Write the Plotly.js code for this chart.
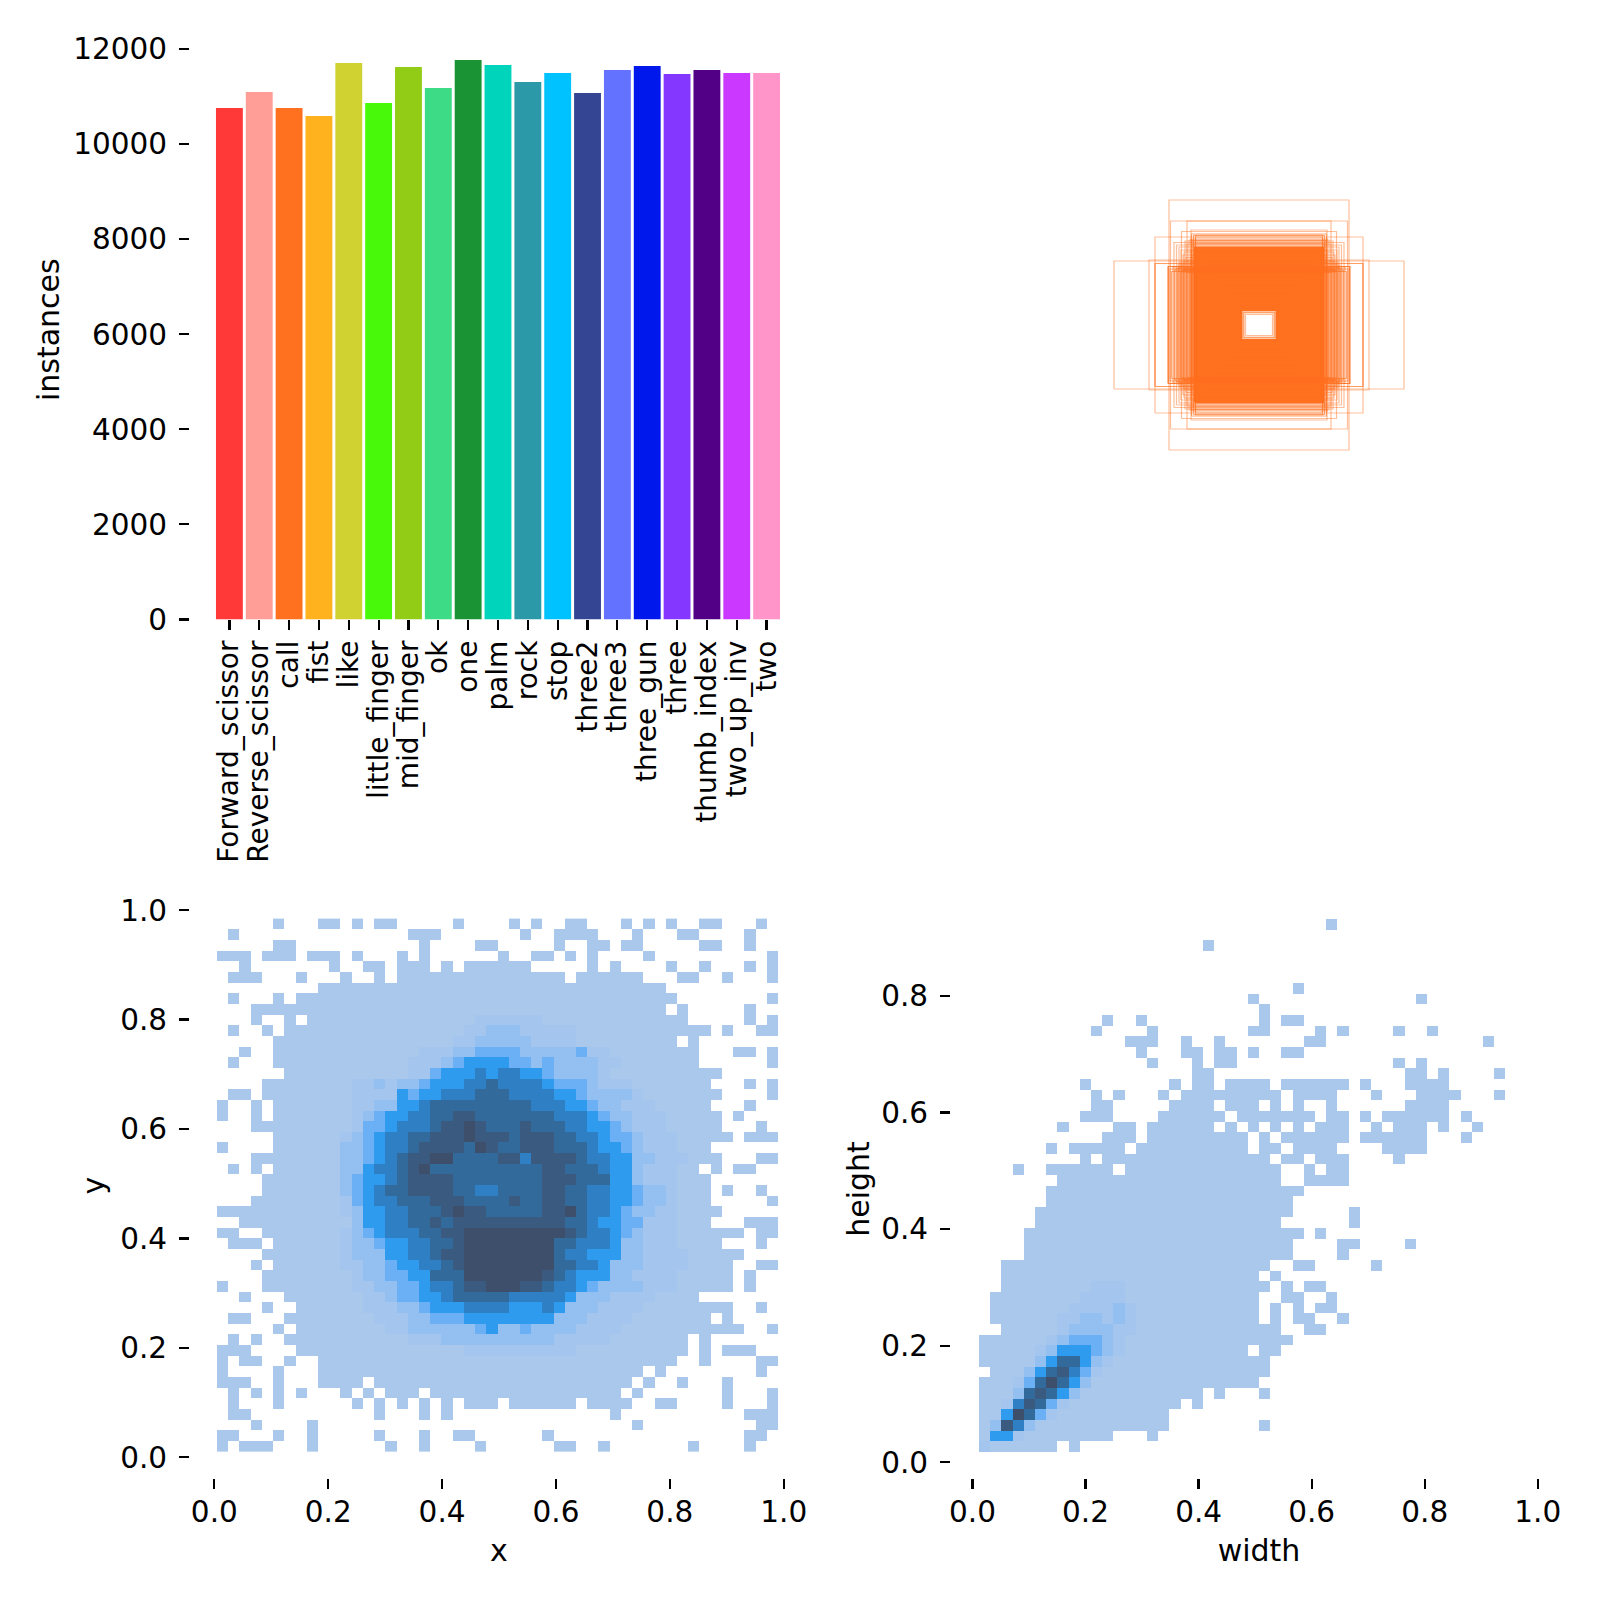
<!DOCTYPE html>
<html>
<head>
<meta charset="utf-8">
<script src="https://cdn.plot.ly/plotly-3.0.1.min.js"></script>
<style>html,body{margin:0;padding:0;background:#fff}</style>
</head>
<body>
<div id="chart" style="width:1600px;height:1600px"></div>
<script>
const categories = ["Forward_scissor","Reverse_scissor","call","fist","like","little_finger","mid_finger","ok","one","palm","rock","stop","three2","three3","three_gun","three","thumb_index","two_up_inv","two"];
const instances = [10760,11096,10760,10592,11706,10865,11622,11180,11769,11664,11306,11495,11075,11558,11643,11474,11558,11495,11495];
const barColors = ["#FF3838","#FF9D97","#FF701F","#FFB21D","#CFD231","#48F90A","#92CC17","#3DDB86","#1A9334","#00D4BB","#2C99A8","#00C2FF","#344593","#6473FF","#0018EC","#8438FF","#520085","#CB38FF","#FF95C8"];

const instanceTicks = [0,2000,4000,6000,8000,10000,12000];
const unitTicks = [0,0.2,0.4,0.6,0.8,1.0];
const heightTicks = [0,0.2,0.4,0.6,0.8];

// box sizes of the label-outline panel, in chart units (width, height)
const coreW = [36,38,40,42,44,46,48,50,52,54,56,58,60,62,64,66,68,70,72,74,76,78,80,82,84,86,88,90,92,94,96,98,100,102,104,106,108,110,112,114,116,118,120,122,124,125,126,127,128];
const coreH = [30,33,35,38,41,43,46,49,51,54,57,59,62,65,67,70,73,75,78,81,83,86,89,91,94,97,99,102,105,107,110,113,115,118,121,123,126,129,131,134,137,139,142,145,147,149,150,152,154];
const sideW = [130,133,136,139,142,145,148,151,154,157,160,163,166,169,172,175,178,181,126,128,130,132,134,136,127,131,135];
const sideH = [106,104,110,107,112,105,114,109,111,106,115,108,113,110,116,107,112,117,157,160,163,166,169,172,176,179,182];
const thinW = [180,290,144,208,220,208,182,177,155,136,127,27,30,33,35,31,37,34,182,208,150,156,160,165,170,148,152,144,140,138,142,146,150,154,158,162,134,136];
const thinH = [250,128,208,176,130,123,117,208,187,190,180,21,24,26,29,25,28,32,117,123,146,150,156,160,165,168,140,162,170,125,130,135,128,122,126,120,140,150];

// 2D histogram of box centres, top row first; 0 = empty, 1-9 = shade
const xyRows = [
"00000 10001 10101 10000 01000 01010 01100 01010 10011 00010",
"01000 00000 00000 00111 00000 00100 11110 00100 01100 00100",
"00000 11000 00000 00010 00011 00000 10011 01100 00011 00100",
"11101 11011 10100 01010 00000 10011 01010 00010 00000 00001",
"00100 00000 10011 01110 10111 11100 00010 10000 10010 00101",
"01110 00100 01001 01111 11111 11111 10111 11100 01100 10001",
"00000 00001 11111 11111 11111 11111 11111 11111 00000 00000",
"01000 10111 11111 11111 11111 11111 11111 11111 10000 00001",
"00011 11111 11111 11111 11111 11111 11111 11111 01000 00100",
"00010 01011 11111 11111 11122 22221 11111 11111 11000 00101",
"01001 01111 11111 11111 11223 33222 22111 11111 11110 10011",
"00000 11111 11111 11111 12233 33322 22111 11111 10100 00000",
"00100 11111 11111 11122 23344 44333 33422 11111 11100 01101",
"01000 11111 11111 11222 34555 54434 33332 21111 11100 00001",
"00000 01111 11111 11224 55565 66554 33332 11111 11111 00000",
"00001 11111 11223 23345 55667 66665 44432 22111 11110 00101",
"01101 11111 11222 25455 66677 76666 55433 33211 11111 00001",
"10010 11111 11223 35567 77777 77766 65543 32221 11110 00100",
"10010 11111 11234 55667 78877 77777 66654 33222 11111 01000",
"00011 11111 11244 56667 88987 77877 76655 43222 11111 00010",
"00000 11111 12345 66778 88988 87888 77665 44322 21111 10111",
"10000 11111 13345 66788 88798 77888 77765 54322 21110 00000",
"00011 11111 13345 67889 97777 88688 88766 55332 22111 00011",
"01010 11111 13356 67897 77777 77778 87776 55322 21101 01100",
"00001 11111 13455 67888 87777 77778 88777 55322 21110 00000",
"00001 11111 13456 77888 87766 77778 87766 55433 21110 10010",
"00011 11111 12456 67778 88777 78778 87766 55433 21110 00001",
"11111 11111 12355 66777 89887 77778 89766 54332 21111 00000",
"00111 11111 11355 66778 78888 88888 87765 54422 21110 00111",
"11001 11111 12345 66677 88999 99999 98766 54322 21111 11011",
"01110 11111 12334 55667 78999 99999 77666 53322 21111 00010",
"00001 11111 12333 55667 88999 99999 76655 53322 22111 11000",
"00010 11111 12233 45566 78999 99999 77665 33322 22111 10011",
"00001 11111 11233 44557 77999 99998 76555 33222 21111 10100",
"10001 11111 11223 34456 67889 99887 66543 33322 21111 10100",
"00100 01111 11122 34455 67777 76666 65333 22221 11100 00000",
"00001 00111 11122 23345 55666 65556 53332 22211 11111 10010",
"01100 01111 11112 22334 44555 55555 33322 22111 11110 10000",
"00000 10111 11111 22333 33345 33433 33222 21111 11111 11001",
"01010 01111 11111 11222 33333 33333 22222 11111 11010 00000",
"11100 00111 11111 11111 11222 22222 22111 11111 11010 11100",
"10110 01001 11111 11111 11111 11111 11111 11111 10010 00011",
"10000 10001 11111 11111 11111 11111 11111 11101 00000 00010",
"11100 10001 11101 11111 11111 11111 11111 11010 01000 10000",
"01010 10100 01010 11101 11111 11111 11111 10100 00000 10001",
"01000 10000 00101 01010 10111 01111 11011 11001 10000 10001",
"01100 00000 00001 00010 10000 00000 00000 10000 00000 00111",
"00010 00010 00000 00000 00000 00000 00000 00100 00000 00011",
"11000 10010 00001 00010 01100 00001 00000 00000 00000 00110",
"10111 00010 00000 10010 00010 00000 11001 00000 00100 00100"
];

// 2D histogram of box sizes, top row first
const whRows = [
"00000 00000 00000 00000 00000 00000 01000 00000 00000 00000",
"00000 00000 00000 00000 00000 00000 00000 00000 00000 00000",
"00000 00000 00000 00000 10000 00000 00000 00000 00000 00000",
"00000 00000 00000 00000 00000 00000 00000 00000 00000 00000",
"00000 00000 00000 00000 00000 00000 00000 00000 00000 00000",
"00000 00000 00000 00000 00000 00000 00000 00000 00000 00000",
"00000 00000 00000 00000 00000 00010 00000 00000 00000 00000",
"00000 00000 00000 00000 00001 00000 00000 00001 00000 00000",
"00000 00000 00000 00000 00000 10000 00000 00000 00000 00000",
"00000 00000 01001 00000 00000 10110 00000 00000 00000 00000",
"00000 00000 10000 10000 00001 10000 10100 00100 10000 00000",
"00000 00000 00011 10010 01000 00001 10000 00000 00000 10000",
"00000 00000 00001 00011 01101 00110 00000 00000 00000 00000",
"00000 00000 00000 10001 01100 00000 00000 00101 00000 00000",
"00000 00000 00000 00001 10000 00000 00000 00011 01000 01000",
"00000 00001 00000 00101 10111 10111 11101 00011 11000 00000",
"00000 00000 10100 01011 11111 11011 11000 10001 11100 01000",
"00000 00000 11000 00111 10111 01010 01000 00011 11000 00000",
"00000 00001 11000 01111 11011 11111 01101 01111 11010 00000",
"00000 00100 00110 11111 10101 01010 11100 10111 01001 00000",
"00000 00000 01110 11111 11110 10111 11101 11111 00010 00000",
"00000 01011 11101 11111 11110 11011 11000 01111 00000 00000",
"00000 00001 01111 11111 11111 10110 11100 00100 00000 00000",
"00010 01111 11011 11111 11111 11001 01100 00000 00000 00000",
"00000 00111 11111 11111 11111 11001 11100 00000 00000 00000",
"00000 01111 11111 11111 11111 11110 00000 00000 00000 00000",
"00000 01111 11111 11111 11111 11100 00000 00000 00000 00000",
"00000 11111 11111 11111 11111 11100 00010 00000 00000 00000",
"00000 11111 11111 11111 11111 11000 00010 00000 00000 00000",
"00001 11111 11111 11111 11111 11110 10000 00000 00000 00000",
"00001 11111 11111 11111 11111 11100 00110 00010 00000 00000",
"00001 11111 11111 11111 11111 11100 00100 00000 00000 00000",
"00111 11111 11111 11111 11111 10011 00000 10000 00000 00000",
"00111 11111 11111 11111 11111 01000 00000 00000 00000 00000",
"00111 11111 22211 11111 11111 10101 10000 00000 00000 00000",
"01111 11112 22211 11111 11111 00110 01000 00000 00000 00000",
"01111 11122 22321 11111 11111 01010 11000 00000 00000 00000",
"01111 11223 32321 11111 11111 01011 00100 00000 00000 00000",
"00111 11233 33221 11111 11111 11001 10000 00000 00000 00000",
"11111 12344 43211 11111 11111 11100 00000 00000 00000 00000",
"11111 23555 43211 11111 11110 11000 00000 00000 00000 00000",
"11111 35775 32111 11111 11111 10000 00000 00000 00000 00000",
"01113 57864 21111 11111 11111 10000 00000 00000 00000 00000",
"11124 79753 11111 11111 11111 00000 00000 00000 00000 00000",
"11137 87531 11111 11111 01000 10000 00000 00000 00000 00000",
"11268 74211 11111 11101 00000 00000 00000 00000 00000 00000",
"11597 42111 11111 11000 00000 00000 00000 00000 00000 00000",
"13863 11111 11111 11000 00000 10000 00000 00000 00000 00000",
"15521 11111 11000 10000 00000 00000 00000 00000 00000 00000",
"21111 11010 00000 00000 00000 00000 00000 00000 00000 00000"
];

const shadeScale = [
[0,"#AAC8EC"],[0.125,"#A4C6EE"],[0.25,"#93BFF1"],[0.375,"#6BB0F5"],[0.5,"#2F9BEF"],
[0.625,"#2E7FC4"],[0.75,"#336A9C"],[0.875,"#3B5A80"],[1,"#3E4F6C"]
];

const gridOf = rows => rows.slice().reverse().map(r => r.replace(/ /g,'').split('').map(ch => ch === '0' ? null : +ch));
const S = 1600;
const dom = (a,b) => [a/S, b/S];
const domY = (top,bottom) => [1-bottom/S, 1-top/S];
const FONT = {family:"DejaVu Sans", size:29.5, color:"#000"};
const TITLEFONT = {family:"DejaVu Sans", size:30, color:"#000"};
const CATFONT = {family:"DejaVu Sans", size:28, color:"#000"};

function axisBase(extra){
  return Object.assign({
    showgrid:false, zeroline:false, showline:false, ticks:"outside", ticklen:10, tickwidth:2.2, tickcolor:"#000",
    tickfont:FONT, ticklabelstandoff:6, automargin:false, fixedrange:true
  }, extra);
}

function boxPath(w,h){
  const c = 283;
  return {x:[c-w/2,c+w/2,c+w/2,c-w/2,c-w/2,null], y:[c-h/2,c-h/2,c+h/2,c+h/2,c-h/2,null]};
}
function addBoxes(ws,hs,width,opacity,out){
  ws.forEach((w,i)=>{const p=boxPath(w,hs[i]); out.push({type:"scatter", mode:"lines", x:p.x, y:p.y, line:{color:"#FF701F",width:width}, opacity:opacity, xaxis:"x2", yaxis:"y2", hoverinfo:"skip"});});
}

const traces = [];
traces.push({type:"bar", x:categories.map((_,i)=>i), y:instances, marker:{color:barColors,line:{width:0}}, width:0.9, xaxis:"x", yaxis:"y", hoverinfo:"skip"});

const coreX=[], coreY=[];
coreW.forEach((w,i)=>{const p=boxPath(w,coreH[i]); coreX.push(...p.x); coreY.push(...p.y);});
traces.push({type:"scatter", mode:"lines", x:coreX, y:coreY, connectgaps:false, line:{color:"#FF701F",width:2}, xaxis:"x2", yaxis:"y2", hoverinfo:"skip"});
addBoxes(sideW,sideH,1.1,0.6,traces);
addBoxes(thinW,thinH,1.2,0.45,traces);

traces.push({type:"heatmap", z:gridOf(xyRows), x0:0.01459, dx:0.019695, y0:0.0198, dy:0.01949, xaxis:"x3", yaxis:"y3",
  colorscale:shadeScale, zmin:1, zmax:9, showscale:false, zsmooth:false, hoverinfo:"skip"});
traces.push({type:"heatmap", z:gridOf(whRows), x0:0.02141, dx:0.019812, y0:0.02664, dy:0.018288, xaxis:"x4", yaxis:"y4",
  colorscale:shadeScale, zmin:1, zmax:9, showscale:false, zsmooth:false, hoverinfo:"skip"});

const layout = {
  width:S, height:S, margin:{l:0,r:0,t:0,b:0,pad:0}, autosize:false, showlegend:false,
  paper_bgcolor:"#fff", plot_bgcolor:"#fff", font:FONT,
  xaxis:axisBase({domain:dom(190,806), range:[-1.32,19.32], tickvals:categories.map((_,i)=>i), ticktext:categories, tickangle:-90, anchor:"y", tickfont:CATFONT, ticklabelstandoff:-1}),
  yaxis:axisBase({domain:domY(40,619.4), range:[0,12190], tickvals:instanceTicks, tickformat:"d", anchor:"x",
    title:{text:"instances",font:TITLEFONT,standoff:4}}),
  xaxis2:{domain:dom(976,1542), range:[0,566], visible:false, anchor:"y2", fixedrange:true},
  yaxis2:{domain:domY(42,608), range:[0,566], visible:false, anchor:"x2", fixedrange:true},
  xaxis3:axisBase({domain:dom(190,808), range:[-0.0427,1.0427], tickvals:unitTicks, tickformat:".1f", anchor:"y3", ticklabelstandoff:-2,
    title:{text:"x",font:TITLEFONT,standoff:11}}),
  yaxis3:axisBase({domain:domY(893,1478), range:[-0.038,1.0314], tickvals:unitTicks, tickformat:".1f", anchor:"x3",
    title:{text:"y",font:TITLEFONT,standoff:6}}),
  xaxis4:axisBase({domain:dom(951,1567), range:[-0.038,1.0517], tickvals:unitTicks, tickformat:".1f", anchor:"y4", ticklabelstandoff:-2,
    title:{text:"width",font:TITLEFONT,standoff:11}}),
  yaxis4:axisBase({domain:domY(900,1478), range:[-0.0271,0.9645], tickvals:heightTicks, tickformat:".1f", anchor:"x4",
    title:{text:"height",font:TITLEFONT,standoff:2}})
};
Plotly.newPlot("chart", traces, layout, {staticPlot:true, displayModeBar:false});
</script>
</body>
</html>
